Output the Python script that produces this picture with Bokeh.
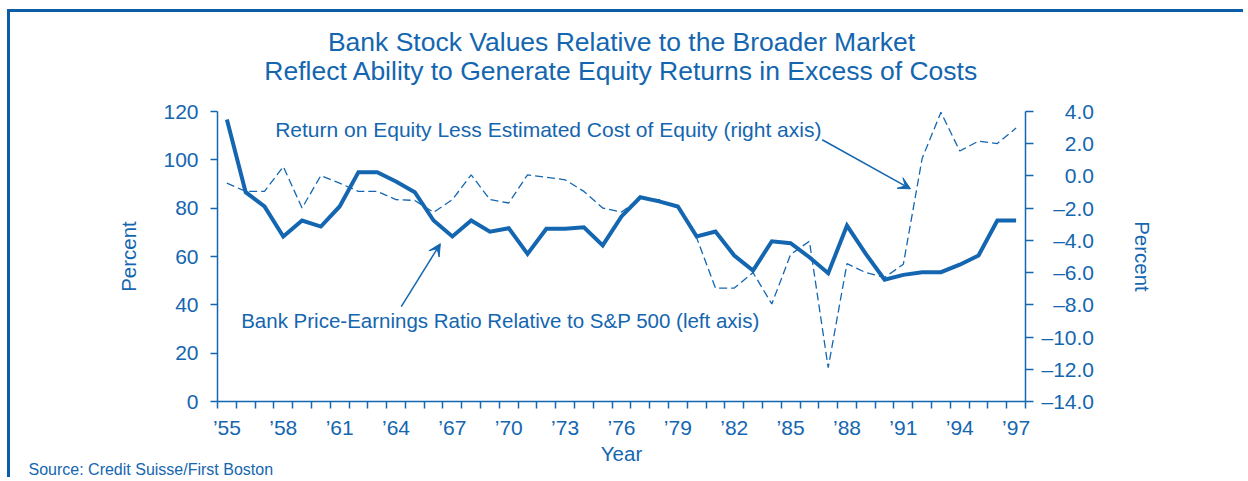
from bokeh.plotting import figure
from bokeh.models import Range1d, LinearAxis, FixedTicker, Label, Arrow, VeeHead, Title
from bokeh.embed import file_html
from bokeh.resources import INLINE

# ---------------- data ----------------
years = list(range(1955, 1998))
pe_ratio = [116.7, 86.6, 80.7, 68.3, 74.9, 72.4, 80.7, 94.9, 94.9, 91.0,
            86.6, 74.9, 68.3, 74.9, 70.3, 71.7, 61.1, 71.5, 71.5, 72.1,
            64.6, 76.6, 84.5, 82.8, 80.7, 68.3, 70.3, 60.4, 54.2, 66.3,
            65.5, 59.7, 53.1, 72.8, 61.1, 50.4, 52.4, 53.5, 53.5, 56.6,
            60.4, 74.9, 74.9]
roe_spread = [-0.45, -0.96, -0.96, 0.58, -1.99, 0.02, -0.45, -0.96, -0.96, -1.47,
              -1.52, -2.26, -1.47, 0.07, -1.47, -1.68, 0.07, -0.08, -0.24, -0.96,
              -1.99, -2.24, -1.38, -1.47, -1.99, -3.84, -6.96, -6.96, -6.0, -7.95,
              -4.87, -4.05, -11.9, -5.44, -6.0, -6.3, -5.48, 1.09, 3.95, 1.55,
              2.16, 2.01, 2.98]
label_years = list(range(1955, 1998, 3))
x_tick_labels = ["\u201955", "\u201958", "\u201961", "\u201964", "\u201967", "\u201970",
                 "\u201973", "\u201976", "\u201979", "\u201982", "\u201985", "\u201988",
                 "\u201991", "\u201994", "\u201997"]
left_ticks = [0, 20, 40, 60, 80, 100, 120]
right_ticks = [4, 2, 0, -2, -4, -6, -8, -10, -12, -14]
right_tick_labels = ["4.0", "2.0", "0.0", "\u20132.0", "\u20134.0", "\u20136.0",
                     "\u20138.0", "\u201310.0", "\u201312.0", "\u201314.0"]

title_lines = ["Bank Stock Values Relative to the Broader Market",
               "Reflect Ability to Generate Equity Returns in Excess of Costs"]
roe_note = "Return on Equity Less Estimated Cost of Equity (right axis)"
pe_note = "Bank Price-Earnings Ratio Relative to S&P 500 (left axis)"
source_note = "Source: Credit Suisse/First Boston"

# ---------------- style ----------------
C = "#1466b0"
BORDER = "#0b5ea6"
FONT = "Liberation Sans"

xs = [y + 0.5 for y in years]

p = figure(width=1236, height=468,
           x_range=Range1d(1955, 1998), y_range=Range1d(0, 120),
           output_backend="svg", toolbar_location=None,
           min_border_left=207, min_border_right=221,
           min_border_top=99, min_border_bottom=79)
p.extra_y_ranges = {"roe": Range1d(-14, 4)}
p.xgrid.visible = False
p.ygrid.visible = False
p.outline_line_color = None
p.background_fill_color = "white"
p.border_fill_color = "white"
p.styles = {"border-top": "3px solid " + BORDER, "border-left": "3px solid " + BORDER,
            "margin-left": "7px", "margin-top": "9px"}

def style_title(t, standoff, size="26.5px", lh=1.0):
    t.text_font = FONT
    t.text_font_size = size
    t.text_font_style = "normal"
    t.text_color = C
    t.text_line_height = lh
    t.standoff = standoff

# panels in p.above: first item sits nearest the frame; the plot title is outermost
spacer = Title(text=" ", align="center")
style_title(spacer, 23, "1px", 1.2)
p.add_layout(spacer, "above")
t2 = Title(text=title_lines[1], align="center")
style_title(t2, 0)
p.add_layout(t2, "above")
p.title.text = title_lines[0]
p.title.align = "center"
style_title(p.title, -6)

def style_axis(ax):
    ax.axis_line_color = C
    ax.axis_line_width = 1.5
    ax.major_tick_line_color = C
    ax.major_tick_line_width = 1.5
    ax.minor_tick_line_color = C
    ax.minor_tick_line_width = 1.5
    ax.major_label_text_color = C
    ax.major_label_text_font = FONT
    ax.major_label_text_font_size = "21px"
    ax.axis_label_text_color = C
    ax.axis_label_text_font = FONT
    ax.axis_label_text_font_size = "20.5px"
    ax.axis_label_text_font_style = "normal"

# x axis: tick marks at year boundaries, labels at mid-years
xa = p.xaxis[0]
style_axis(xa)
xa.ticker = FixedTicker(ticks=[y + 0.5 for y in label_years],
                        minor_ticks=list(range(1955, 1999)))
xa.major_label_overrides = {y + 0.5: s for y, s in zip(label_years, x_tick_labels)}
xa.major_tick_out = 0
xa.major_tick_in = 0
xa.minor_tick_out = 7
xa.minor_tick_in = 0
xa.major_label_standoff = 7
xa.axis_label = "Year"
xa.axis_label_standoff = 0

ya = p.yaxis[0]
style_axis(ya)
ya.ticker = FixedTicker(ticks=left_ticks, minor_ticks=[])
ya.major_tick_out = 7
ya.major_tick_in = 0
ya.major_label_standoff = 12
ya.axis_label = "Percent"
ya.axis_label_standoff = 20

ra = LinearAxis(y_range_name="roe")
style_axis(ra)
ra.ticker = FixedTicker(ticks=right_ticks, minor_ticks=[])
maxlen = max(len(s) for s in right_tick_labels)
ra.major_label_overrides = {t: "\u2007" * (maxlen - len(s)) + s
                            for t, s in zip(right_ticks, right_tick_labels)}
ra.major_tick_out = 8
ra.major_tick_in = 0
ra.major_label_standoff = 8
ra.axis_label = "Percent"
ra.axis_label_standoff = 34
p.add_layout(ra, "right")

# source note below the x axis, shifted to the left edge of the canvas
src = Title(text=source_note, align="left", offset=-189)
style_title(src, -18, "16px", 1.2)
p.add_layout(src, "below")

# ---------------- series ----------------
p.line(xs, roe_spread, y_range_name="roe", line_color=C, line_width=1.3,
       line_dash="8 4")
p.line(xs, pe_ratio, line_color=C, line_width=4, line_join="miter")

# ---------------- annotations ----------------
p.add_layout(Label(x=1958.07, y=112.5, text=roe_note, text_font=FONT,
                   text_font_size="21px", text_color=C, text_baseline="middle"))
p.add_layout(Label(x=1956.26, y=33.5, text=pe_note, text_font=FONT,
                   text_font_size="20.5px", text_color=C, text_baseline="middle"))
p.add_layout(Arrow(end=VeeHead(size=12, fill_color=C, line_color=C, line_width=1),
                   x_start=1987.18, y_start=108.3, x_end=1991.88, y_end=88.0,
                   line_color=C, line_width=1.5))
p.add_layout(Arrow(end=VeeHead(size=12, fill_color=C, line_color=C, line_width=1),
                   x_start=1964.78, y_start=39.3, x_end=1966.86, y_end=65.3,
                   line_color=C, line_width=1.5))

open("out.html", "w").write(file_html(p, INLINE))
